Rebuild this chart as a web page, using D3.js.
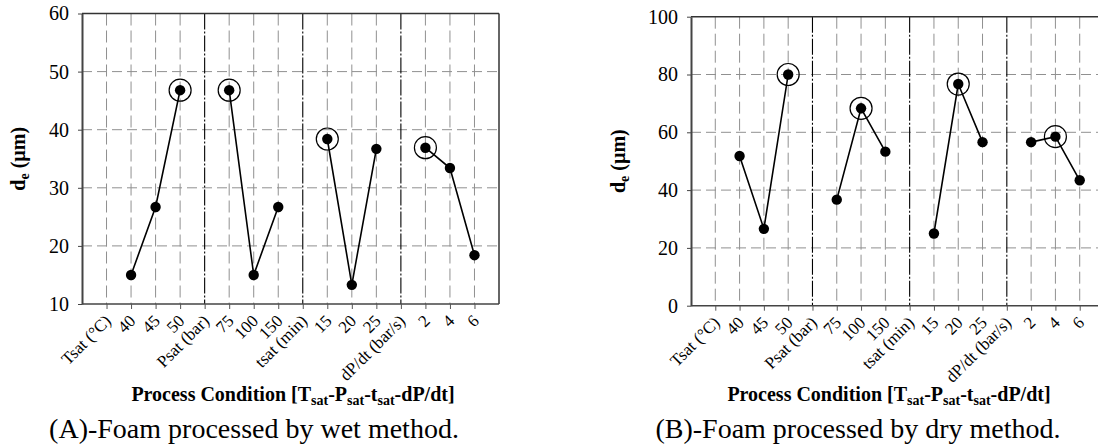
<!DOCTYPE html>
<html>
<head>
<meta charset="utf-8">
<script src="https://cdn.jsdelivr.net/npm/d3@7"></script>
<style>
  html, body { margin: 0; padding: 0; background: #fff; }
  svg { display: block; font-family: "Liberation Serif", "Times New Roman", serif; }
</style>
</head>
<body>
<svg id="chart" width="1098" height="448"></svg>
<script>
// ---- Data ----
const categories = ["Tsat (°C)", "40", "45", "50", "Psat (bar)", "75", "100", "150",
                    "tsat (min)", "15", "20", "25", "dP/dt (bar/s)", "2", "4", "6"];
const separatorCategories = ["Psat (bar)", "tsat (min)", "dP/dt (bar/s)"];

// Wet method (A) – null for header slots (breaks the line between groups)
const wetValues = [null, 15.0, 26.7, 46.8, null, 46.8, 15.0, 26.7, null, 38.4, 13.3, 36.7, null, 36.9, 33.4, 18.4];
const wetOptimal = ["50", "75", "15", "2"];
const wetTicks = [10, 20, 30, 40, 50, 60];

// Dry method (B)
const dryValues = [null, 51.8, 26.6, 80.0, null, 36.7, 68.3, 53.3, null, 25.0, 76.7, 56.6, null, 56.6, 58.5, 43.4];
const dryOptimal = ["50", "100", "20", "4"];
const dryTicks = [0, 20, 40, 60, 80, 100];

const panels = [
  { values: wetValues, optimal: wetOptimal, ticks: wetTicks, domain: [10, 60],
    left: 82, right: 499, top: 13.5, bottom: 304, yTitleX: 17.5, titleX: 293, captionX: 254,
    caption: "(A)-Foam processed by wet method." },
  { values: dryValues, optimal: dryOptimal, ticks: dryTicks, domain: [0, 100],
    left: 691, right: 1104, top: 16.7, bottom: 305.7, yTitleX: 618, titleX: 889, captionX: 858,
    caption: "(B)-Foam processed by dry method." }
];

const svg = d3.select("#chart");

panels.forEach(p => {
  const g = svg.append("g");
  const x = d3.scalePoint().domain(categories).range([p.left, p.right]).padding(1);
  const y = d3.scaleLinear().domain(p.domain).range([p.bottom, p.top]);

  // horizontal grid
  g.append("g").selectAll("line")
    .data(p.ticks.filter(t => t !== p.domain[0] && t !== p.domain[1]))
    .join("line")
    .attr("x1", p.left).attr("x2", p.right)
    .attr("y1", d => y(d)).attr("y2", d => y(d))
    .attr("stroke", "#909090").attr("stroke-width", 1)
    .attr("stroke-dasharray", "10,5");

  // vertical grid
  g.append("g").selectAll("line")
    .data(categories)
    .join("line")
    .attr("x1", d => x(d)).attr("x2", d => x(d))
    .attr("y1", p.top).attr("y2", p.bottom)
    .attr("stroke", d => separatorCategories.includes(d) ? "#000" : "#909090")
    .attr("stroke-width", d => separatorCategories.includes(d) ? 1.1 : 1)
    .attr("stroke-dasharray", d => separatorCategories.includes(d) ? "16,2,2,2" : "12,5");

  // border top/right
  g.append("line").attr("x1", p.left).attr("x2", p.right).attr("y1", p.top).attr("y2", p.top)
    .attr("stroke", "#333").attr("stroke-width", 1.5);
  g.append("line").attr("x1", p.right).attr("x2", p.right).attr("y1", p.top).attr("y2", p.bottom)
    .attr("stroke", "#333").attr("stroke-width", 1.5);

  // y axis
  const yAxis = g.append("g").attr("transform", `translate(${p.left},0)`)
    .call(d3.axisLeft(y).tickValues(p.ticks).tickSize(4).tickPadding(9).tickSizeOuter(0));
  yAxis.attr("font-family", "Liberation Serif");
  yAxis.select(".domain").attr("stroke", "#444").attr("stroke-width", 2);
  yAxis.selectAll(".tick line").attr("stroke", "#444");
  yAxis.selectAll("text").attr("font-size", 20).attr("fill", "#000");

  // x axis
  const xAxis = g.append("g").attr("transform", `translate(0,${p.bottom})`)
    .call(d3.axisBottom(x).tickSize(5).tickSizeOuter(0));
  xAxis.attr("font-family", "Liberation Serif");
  xAxis.select(".domain").attr("stroke", "#444").attr("stroke-width", 1.5)
    .attr("d", `M${p.left},0H${p.right}`);
  xAxis.selectAll(".tick line").attr("stroke", "#555");
  xAxis.selectAll("text")
    .attr("font-size", 17).attr("fill", "#000")
    .attr("text-anchor", "end")
    .attr("y", 0).attr("dy", 0)
    .attr("transform", "translate(5,18) rotate(-45)");

  // line
  const pts = categories.map((c, i) => ({ c, v: p.values[i] }));
  const line = d3.line().defined(d => d.v != null).x(d => x(d.c)).y(d => y(d.v));
  g.append("path").datum(pts).attr("d", line)
    .attr("fill", "none").attr("stroke", "#000").attr("stroke-width", 1.6);

  // points
  g.append("g").selectAll("circle")
    .data(pts.filter(d => d.v != null))
    .join("circle")
    .attr("cx", d => x(d.c)).attr("cy", d => y(d.v)).attr("r", 5.2).attr("fill", "#000");

  // optimal rings
  g.append("g").selectAll("circle")
    .data(pts.filter(d => d.v != null && p.optimal.includes(d.c)))
    .join("circle")
    .attr("cx", d => x(d.c)).attr("cy", d => y(d.v)).attr("r", 11)
    .attr("fill", "none").attr("stroke", "#000").attr("stroke-width", 1.2);

  // y title
  const yt = g.append("text")
    .attr("transform", `translate(${p.yTitleX},${(p.top + p.bottom) / 2}) rotate(-90)`)
    .attr("text-anchor", "middle").attr("font-weight", "bold").attr("font-size", 20)
    .attr("dy", "0.35em");
  yt.append("tspan").text("d");
  yt.append("tspan").text("e").attr("font-size", 14).attr("dy", "0.3em");
  yt.append("tspan").text(" (µm)").attr("dy", "-0.21em");

  // x title
  const xt = g.append("text").attr("x", p.titleX).attr("y", 400.7)
    .attr("text-anchor", "middle").attr("font-weight", "bold").attr("font-size", 20);
  const parts = [["Process Condition [T", 0], ["sat", 1], ["-P", 0], ["sat", 1], ["-t", 0], ["sat", 1], ["-dP/dt]", 0]];
  parts.forEach(([t, sub]) => {
    xt.append("tspan").text(t)
      .attr("font-size", sub ? 14 : 20)
      .attr("baseline-shift", sub ? "-4" : null);
  });

  // caption
  g.append("text").attr("x", p.captionX).attr("y", 438)
    .attr("text-anchor", "middle").attr("font-size", 28).text(p.caption);
});
</script>
</body>
</html>
